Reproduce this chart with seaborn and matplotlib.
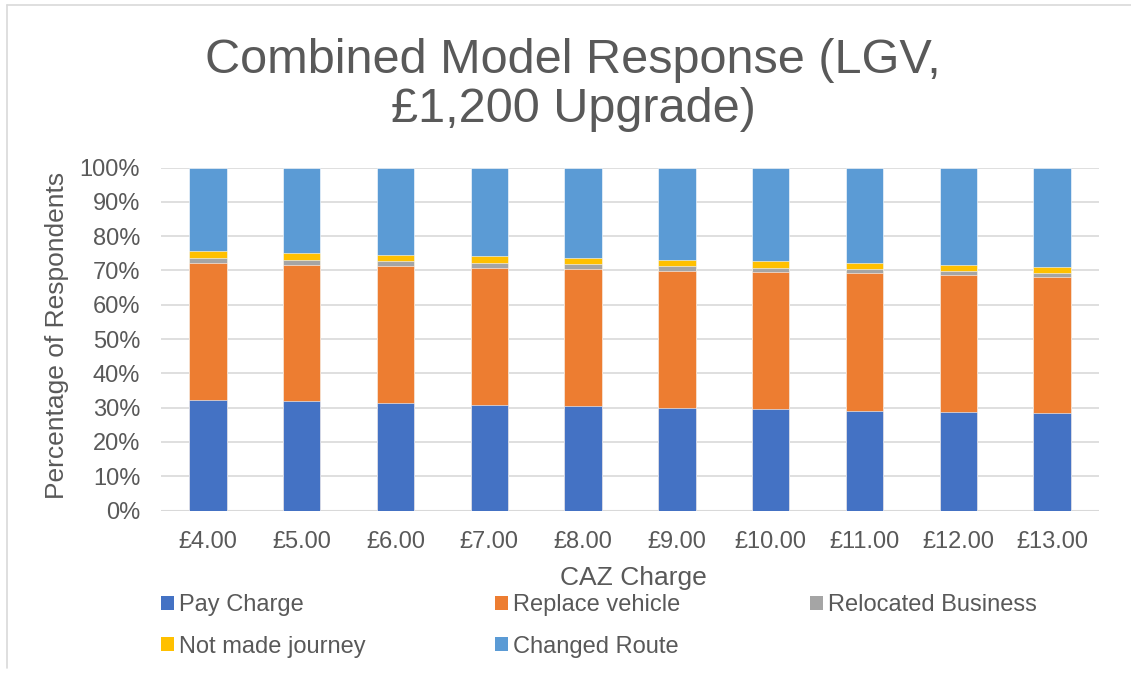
import matplotlib
matplotlib.use("Agg")
import matplotlib.pyplot as plt
import seaborn as sns
import pandas as pd
import numpy as np
from matplotlib.patches import Patch
from matplotlib.lines import Line2D

# ---- data ----
charges = ["£4.00", "£5.00", "£6.00", "£7.00", "£8.00",
           "£9.00", "£10.00", "£11.00", "£12.00", "£13.00"]
pay_charge = [32.1, 31.8, 31.2, 30.9, 30.4, 30.0, 29.6, 29.1, 28.8, 28.3]
replace_vehicle = [40.2, 39.9, 40.1, 39.8, 39.9, 39.9, 40.0, 40.0, 39.9, 39.8]
relocated_business = [1.3, 1.4, 1.5, 1.5, 1.6, 1.5, 1.1, 1.2, 1.2, 1.2]
not_made_journey = [2.0, 1.9, 1.7, 1.9, 1.6, 1.7, 1.9, 1.8, 1.7, 1.7]
changed_route = [24.4, 25.0, 25.5, 25.9, 26.5, 26.9, 27.4, 27.9, 28.4, 29.0]

series_names = ["Pay Charge", "Replace vehicle", "Relocated Business",
                "Not made journey", "Changed Route"]
series_values = [pay_charge, replace_vehicle, relocated_business,
                 not_made_journey, changed_route]
colors = ["#4472C4", "#ED7D31", "#A5A5A5", "#FFC000", "#5B9BD5"]

title = "Combined Model Response (LGV,\n£1,200 Upgrade)"
xlabel = "CAZ Charge"
ylabel = "Percentage of Respondents"

# ---- style ----
sns.set_theme(style="white")
plt.rcParams["font.family"] = ["Liberation Sans", "DejaVu Sans"]
text_color = "#595959"
FS = 17
FS_AX = 19

W, H = 1131, 678
fig = plt.figure(figsize=(W / 100, H / 100), dpi=100)
L, R, T, B = 161, 1099, 167.5, 510.5
ax = fig.add_axes([L / W, 1 - B / H, (R - L) / W, (B - T) / H])

# cumulative tops of the stacked layers
cum = np.zeros(len(charges))
cums = []
for vals in series_values:
    cum = cum + np.array(vals)
    cums.append(cum.copy())
total = cums[-1]
cums = [c / total * 100 for c in cums]

rows = []
for name, c in zip(series_names, cums):
    for cat, v in zip(charges, c):
        rows.append({"charge": cat, "series": name, "top": v})
df = pd.DataFrame(rows)

# draw from top layer down so each lower layer covers the upper part
for name, col in reversed(list(zip(series_names, colors))):
    sub = df[df["series"] == name]
    sns.barplot(data=sub, x="charge", y="top", order=charges, color=col,
                width=0.4, saturation=1, ax=ax, zorder=3,
                edgecolor="white", linewidth=0.4)

ax.set_ylim(0, 100)
ax.set_xlim(-0.5, len(charges) - 0.5)
ax.set_yticks(np.arange(0, 101, 10))
ax.set_yticklabels([f"{v}%" for v in range(0, 101, 10)])
ax.yaxis.grid(True, color="#D9D9D9", linewidth=1.2, zorder=0)
ax.set_axisbelow(True)
for s in ax.spines.values():
    s.set_visible(False)
ax.axhline(0, color="#D9D9D9", linewidth=1.5, zorder=2)
ax.tick_params(axis="both", length=0, labelsize=FS, labelcolor=text_color)
ax.tick_params(axis="x", pad=15)
ax.tick_params(axis="y", pad=15)
ax.set_xlabel("")
ax.set_ylabel("")

fig.text(573 / W, 1 - 85 / H, title, ha="center", va="center",
         fontsize=35, color=text_color, linespacing=1.1)
fig.text(633 / W, 1 - 578 / H, xlabel, ha="center", va="center",
         fontsize=FS_AX, color=text_color)
fig.text(57 / W, 1 - 335 / H, ylabel, ha="center", va="center",
         rotation=90, fontsize=FS_AX, color=text_color)

# legend (row-major order in 3 columns)
handles = [Patch(facecolor=c, edgecolor="none") for c in colors]
order = [0, 3, 1, 4, 2]
leg = fig.legend([handles[i] for i in order], [series_names[i] for i in order],
                 ncol=3, loc="upper left",
                 bbox_to_anchor=(161 / W, 1 - 594 / H),
                 frameon=False, fontsize=FS, labelcolor=text_color,
                 handlelength=0.55, handleheight=0.55, handletextpad=0.2,
                 columnspacing=5.5, labelspacing=0.83, borderaxespad=0,
                 borderpad=0)

# chart frame lines
fig.add_artist(Line2D([7 / W, 1], [1 - 4.5 / H, 1 - 4.5 / H],
                      transform=fig.transFigure, color="#D9D9D9", lw=1.2))
fig.add_artist(Line2D([7 / W, 7 / W], [1 - 4.5 / H, 1 - 668 / H],
                      transform=fig.transFigure, color="#D9D9D9", lw=1.2))

fig.savefig("out.png", dpi=100, facecolor="white")
